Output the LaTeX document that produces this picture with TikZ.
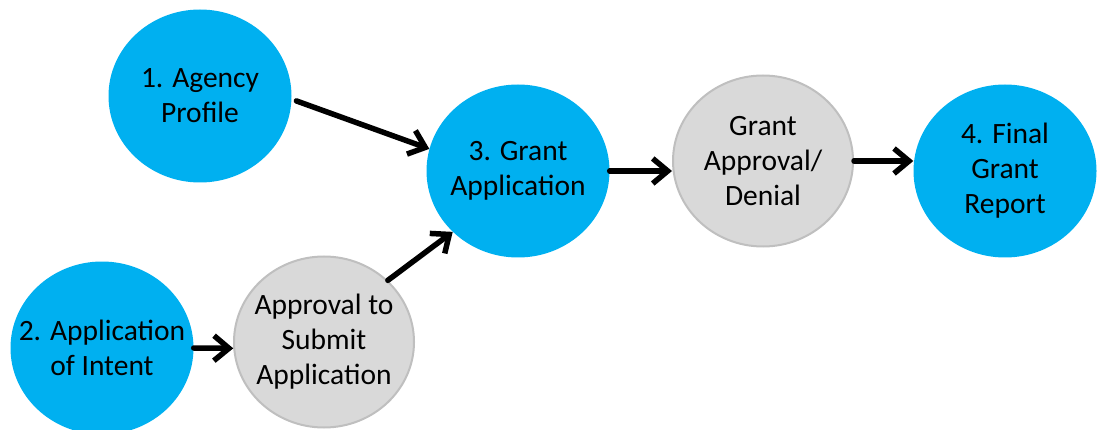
\documentclass[tikz,border=0pt]{standalone}
\usepackage{fontspec}
\setmainfont{Carlito}
\usetikzlibrary{arrows.meta,shapes.geometric}
\definecolor{phaseblue}{HTML}{00B0F0}
\definecolor{reviewgray}{HTML}{D9D9D9}
\definecolor{reviewedge}{HTML}{BFBFBF}

\begin{document}
\begin{tikzpicture}[
    x=1pt, y=-1pt,
    % Define styles
    phase/.style={ellipse, fill=phaseblue, inner sep=-40pt, minimum width=183pt, minimum height=173pt, align=center, font=\fontsize{29.5}{35}\selectfont},
    review/.style={phase, fill=reviewgray, draw=reviewedge, line width=2pt, minimum width=180pt, minimum height=171pt},
    flow/.style={-{Straight Barb[length=15pt,width=25pt]}, line width=5.5pt, line cap=round, line join=round}
]
\useasboundingbox (0,0) rectangle (1102,430);

% Applicant steps
\node[phase] (profile_node) at (200,96) {1. Agency\\Profile};
\node[phase] (intent_node) at (102,348) {2. Application\\of Intent};
\node[review] (approval_node) at (324,342) {Approval to\\Submit\\Application};

% Grant steps
\node[phase] (grant_node) at (518,171) {3. Grant\\Application};
\node[review] (decision_node) at (763,161) {Grant\\Approval/\\Denial};
\node[phase] (report_node) at (1005,171) {4. Final\\Grant\\Report};

% Flow
\draw[flow, shorten <=5pt] (profile_node.-2) -- (grant_node.166);
\draw[flow] (intent_node.east) -- (approval_node.184);
\draw[flow] (approval_node.44) -- (grant_node.223);
\draw[flow] (grant_node.east) -- (decision_node.west |- grant_node.east);
\draw[flow] (decision_node.east) -- (report_node.west |- decision_node.east);

\end{tikzpicture}
\end{document}
